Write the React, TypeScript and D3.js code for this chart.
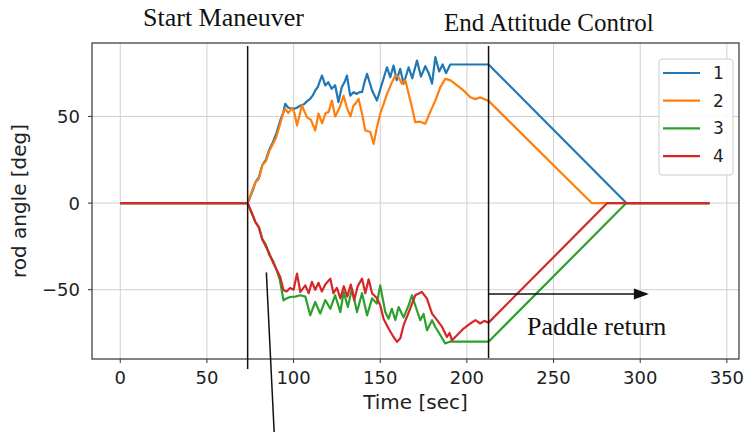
import * as d3 from 'd3'

// rod angle traces, [time sec, angle deg]
const rod1: [number, number][] = [
	[0, 0], [73.5, 0], [76, 6], [78, 12], [80, 15], [82, 22], [84, 25], [86, 31], [88, 35], [90, 40],
	[92.3, 47.7], [94, 52], [95.2, 57.3], [97, 55], [100, 54.4], [102, 55], [104, 56.3], [106, 57],
	[108, 59], [109.6, 60.2], [111, 62], [112.5, 65], [114, 67], [115, 70], [116.4, 73.6], [118.3, 67.9],
	[120, 69.8], [122, 66], [124, 68], [125.9, 58.3], [127.8, 66.9], [129.5, 70], [130.8, 73.6],
	[132.7, 62], [134.6, 64], [136.5, 63], [138, 64], [139.5, 64], [141, 70], [142.4, 74.6], [145.3, 65],
	[148.1, 59.2], [151, 68.9], [153.9, 78.4], [155.8, 72.6], [157.7, 79.4], [159.5, 71], [161.5, 77.5],
	[163.5, 68.9], [166.4, 78.4], [168.5, 72], [171.2, 82.3], [173.5, 73], [176, 79], [178, 75],
	[179.9, 68.9], [181.8, 84.2], [184, 76], [186, 80], [188, 75], [190.4, 80], [212.5, 80], [292, 0],
	[340, 0],
]
const rod2: [number, number][] = [
	[0, 0], [73.5, 0], [76, 7], [78, 12], [80, 14], [82, 22], [84, 24], [86, 30], [88, 34], [90, 38],
	[92.3, 45.8], [94, 52], [95.2, 54.4], [97, 52], [99, 55], [100.5, 52], [102, 44.8], [104.8, 56.3],
	[107.7, 49.6], [110, 48], [112.5, 41.9], [114.4, 51.7], [116.5, 46], [118.5, 52], [120.2, 52.5],
	[122.1, 59.2], [124, 50], [126.5, 55], [128.9, 62], [130.8, 55], [132.8, 50], [134.5, 56],
	[135.6, 57.3], [137.5, 60.2], [139.5, 51.6], [141.4, 41.9], [144.3, 41], [146.2, 34.2], [148.1, 43.8],
	[150, 51.6], [152, 57.3], [153.9, 63], [156.8, 69.8], [158.7, 73.6], [160.6, 72.6], [162.5, 68.9],
	[164.5, 71], [166.4, 63], [168.3, 55.4], [170.2, 46.7], [173, 47], [176, 45.8], [178.8, 52.5],
	[181.8, 59.2], [184.7, 66.9], [187.5, 71.7], [190.4, 71], [194.3, 67.9], [198.1, 65], [202, 61.1],
	[204.9, 60], [207.7, 61], [210, 60], [212.5, 59], [272, 0], [340, 0],
]
const rod3: [number, number][] = [
	[0, 0], [73.5, 0], [76, -6], [78, -11], [80, -14], [82, -21], [84, -24], [86, -30], [88, -33],
	[90, -38], [92, -44], [94.2, -56.1], [96, -55], [98, -54.2], [101, -54], [103.9, -53.2], [106.8, -54],
	[109.6, -64.8], [112.5, -57.1], [115.4, -63.8], [118.3, -56], [121.2, -61], [124, -53.2], [127, -62.9],
	[128.9, -51.3], [131.3, -60], [133.7, -49.4], [136.6, -62.9], [139.5, -52], [142.4, -64.8], [145.3, -55],
	[148, -58], [150, -47.5], [152.9, -62.9], [154.8, -66.7], [156.7, -61], [158.7, -67.5], [160.6, -60],
	[163.5, -66], [166.4, -59], [168.3, -53.2], [171.2, -62], [173.1, -67.6], [175, -64], [177, -73.4],
	[179.9, -67.6], [181.8, -71.5], [184.7, -76.3], [187.5, -81], [190, -80], [212.5, -80], [292, 0],
	[340, 0],
]
const rod4: [number, number][] = [
	[0, 0], [73.5, 0], [76, -6], [78, -11], [80, -14], [82, -21], [84, -25], [86, -29], [88, -34],
	[90, -38], [92.3, -42.7], [94.2, -50.3], [96, -51], [98, -49], [100, -50], [102, -40.7], [103.9, -51.3],
	[106.8, -47.5], [108.7, -52], [110.6, -45.5], [112.5, -50], [114.4, -46], [116.3, -51], [118.3, -47],
	[121.2, -43.6], [123, -52], [125, -49], [127, -55], [129, -48], [131, -54], [133, -47], [135, -56],
	[137, -48], [139.5, -43.6], [141.4, -52], [143.3, -44], [145.3, -52], [148.1, -55], [150, -59],
	[151.9, -66.7], [154.8, -72.4], [157.7, -77.3], [159.7, -80.1], [161.6, -78], [163.5, -70.5],
	[167.3, -60.9], [170.2, -53.2], [174, -51.3], [176.9, -55], [179.9, -63.8], [182.8, -67.6],
	[185.7, -71.5], [188.5, -77.3], [190, -75], [191.4, -79.2], [194.3, -76.3], [198.1, -72.4],
	[202, -69.5], [204.9, -67.6], [207.7, -69.5], [210, -68], [212.5, -69], [281, 0], [340, 0],
]

const seriesNames = ['1', '2', '3', '4']
const seriesData = [rod1, rod2, rod3, rod4]
const colors = ['#1f77b4', '#ff7f0e', '#2ca02c', '#d62728']

const xTicks = [0, 50, 100, 150, 200, 250, 300, 350]
const yTicks = [-50, 0, 50]

const startTime = 73.5
const endControlTime = 212.5

const W = 747
const H = 432
const frame = { left: 92, right: 739, top: 43, bottom: 359 }

const serif = '"Liberation Serif", "Times New Roman", serif'
const sans = '"DejaVu Sans", sans-serif'

export default function App() {
	const x = d3.scaleLinear().domain([-16.3, 357]).range([frame.left, frame.right])
	const y = d3.scaleLinear().domain([-90, 92.4]).range([frame.bottom, frame.top])

	const line = d3
		.line<[number, number]>()
		.x((d) => x(d[0]))
		.y((d) => y(d[1]))

	const arrowY = y(-52.5)
	const arrowEnd = x(305)

	return (
		<svg
			width={W}
			height={H}
			style={{ position: 'absolute', left: 0, top: 0, background: '#fff' }}
		>
			<defs>
				<clipPath id='plot'>
					<rect
						x={frame.left}
						y={frame.top}
						width={frame.right - frame.left}
						height={frame.bottom - frame.top}
					/>
				</clipPath>
			</defs>

			{/* grid */}
			<g stroke='#d0d0d0' strokeWidth={1}>
				{xTicks.map((t) => (
					<line key={'gx' + t} x1={x(t)} x2={x(t)} y1={frame.top} y2={frame.bottom} />
				))}
				{yTicks.map((t) => (
					<line key={'gy' + t} x1={frame.left} x2={frame.right} y1={y(t)} y2={y(t)} />
				))}
			</g>

			{/* series */}
			<g clipPath='url(#plot)' fill='none' strokeWidth={2.2} strokeLinejoin='round'>
				{seriesData.map((s, i) => (
					<path key={i} d={line(s) ?? ''} stroke={colors[i]} />
				))}
			</g>

			{/* frame */}
			<rect
				x={frame.left}
				y={frame.top}
				width={frame.right - frame.left}
				height={frame.bottom - frame.top}
				fill='none'
				stroke='#333'
				strokeWidth={1.2}
			/>

			{/* axes */}
			<g fontFamily={sans} fontSize={18} fill='#222'>
				{xTicks.map((t) => (
					<g key={'xt' + t}>
						<line x1={x(t)} x2={x(t)} y1={frame.bottom} y2={frame.bottom + 4} stroke='#333' />
						<text x={x(t)} y={frame.bottom + 25} textAnchor='middle'>
							{t}
						</text>
					</g>
				))}
				{yTicks.map((t) => (
					<g key={'yt' + t}>
						<line x1={frame.left - 4} x2={frame.left} y1={y(t)} y2={y(t)} stroke='#333' />
						<text x={frame.left - 12} y={y(t) + 6.5} textAnchor='end'>
							{t < 0 ? '\u2212' + Math.abs(t) : t}
						</text>
					</g>
				))}
				<text x={(frame.left + frame.right) / 2} y={409} textAnchor='middle' fontSize={20}>
					Time [sec]
				</text>
				<text
					transform={`translate(26,${(frame.top + frame.bottom) / 2}) rotate(-90)`}
					textAnchor='middle'
					fontSize={20}
				>
					rod angle [deg]
				</text>
			</g>

			{/* legend */}
			<g fontFamily={sans} fontSize={17}>
				<rect x={659} y={59} width={74} height={116} rx={3} fill='#fff' fillOpacity={0.85} stroke='#ccc' />
				{seriesNames.map((n, i) => (
					<g key={n} transform={`translate(0,${73 + i * 27.7})`}>
						<line x1={663} x2={700} y1={0} y2={0} stroke={colors[i]} strokeWidth={2.2} />
						<text x={713} y={6} fill='#222'>
							{n}
						</text>
					</g>
				))}
			</g>

			{/* annotations */}
			<g stroke='#111' strokeWidth={1.5} fill='none'>
				<line x1={x(startTime)} x2={x(startTime)} y1={46} y2={369} />
				<line x1={x(endControlTime)} x2={x(endControlTime)} y1={46} y2={frame.bottom - 1} />
				<line x1={x(84.3)} y1={y(-40)} x2={x(88.8)} y2={H} />
				<line x1={x(endControlTime)} x2={arrowEnd - 14} y1={arrowY} y2={arrowY} />
			</g>
			<path
				d={`M${arrowEnd},${arrowY} L${arrowEnd - 15},${arrowY - 5.5} L${arrowEnd - 15},${arrowY + 5.5} Z`}
				fill='#111'
			/>
			<g fontFamily={serif} fill='#111'>
				<text x={143} y={26} fontSize={26}>
					Start Maneuver
				</text>
				<text x={444} y={31} fontSize={25}>
					End Attitude Control
				</text>
				<text x={527} y={335} fontSize={26}>
					Paddle return
				</text>
			</g>
		</svg>
	)
}
